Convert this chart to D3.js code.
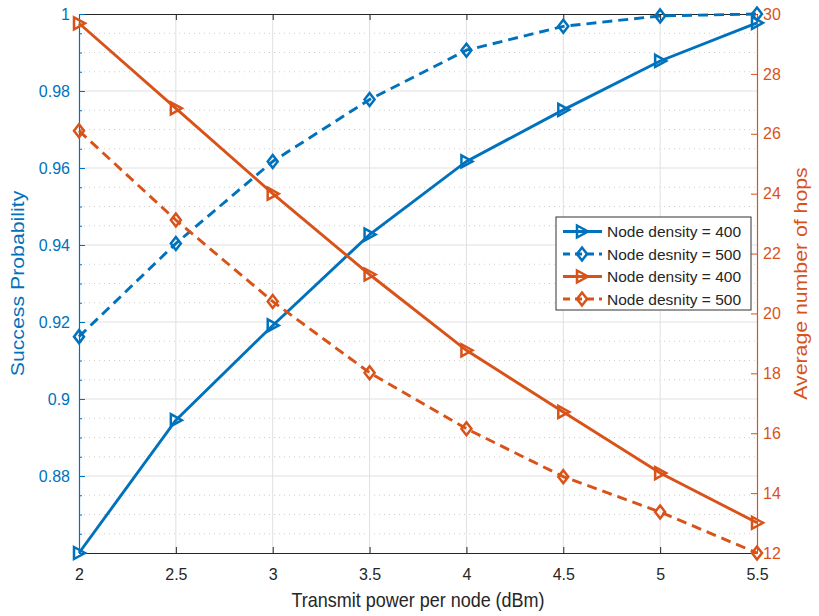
<!DOCTYPE html>
<html>
<head>
<meta charset="utf-8">
<script src="https://cdn.jsdelivr.net/npm/d3@7"></script>
<style>
  html, body { margin: 0; padding: 0; background: #fff; }
  svg { display: block; font-family: "Liberation Sans", Arial, Helvetica, sans-serif; }
</style>
</head>
<body>
<svg id="chart" width="819" height="616"></svg>
<script>
// Transmit power sweep (dBm)
const power = [2, 2.5, 3, 3.5, 4, 4.5, 5, 5.5];
// Success probability (left axis)
const successD400 = [0.8600, 0.8945, 0.9191, 0.9427, 0.9617, 0.9751, 0.9878, 0.9977];
const successD500 = [0.9162, 0.9404, 0.9617, 0.9778, 0.9906, 0.9968, 0.9995, 1.0000];
// Average number of hops (right axis)
const hopsD400 = [29.69, 26.85, 24.00, 21.30, 18.77, 16.71, 14.67, 13.01];
const hopsD500 = [26.10, 23.12, 20.40, 18.02, 16.15, 14.55, 13.37, 12.00];

const xTicks = [2, 2.5, 3, 3.5, 4, 4.5, 5, 5.5];
const leftTicks = [0.88, 0.9, 0.92, 0.94, 0.96, 0.98, 1];
const leftMinor = d3.range(0, 29).map(i => 0.86 + i * 0.005);
const rightTicks = [12, 14, 16, 18, 20, 22, 24, 26, 28, 30];

const legendLabels = ["Node density = 400", "Node desnity = 500", "Node density = 400", "Node desnity = 500"];

const BLUE = "#0072BD", ORANGE = "#D95319", DARK = "#262626";

const svg = d3.select("#chart");
const L = 79, R = 757, T = 14, B = 553;

const x = d3.scaleLinear().domain([2, 5.5]).range([L, R]);
const yL = d3.scaleLinear().domain([0.86, 1]).range([B, T]);
const yR = d3.scaleLinear().domain([12, 30]).range([B, T]);

// grid: dotted minor rows, solid major rows and columns
const grid = svg.append("g");
grid.selectAll("line.minor").data(leftMinor.filter(v => !leftTicks.some(t => Math.abs(t - v) < 1e-6) && v > 0.861 && v < 0.999))
  .join("line").attr("class", "minor")
  .attr("x1", L).attr("x2", R)
  .attr("y1", d => yL(d)).attr("y2", d => yL(d))
  .attr("stroke", "#cfcfcf").attr("stroke-width", 1).attr("stroke-dasharray", "1,4");
grid.selectAll("line.majorY").data(leftTicks.filter(v => v < 1))
  .join("line").attr("class", "majorY")
  .attr("x1", L).attr("x2", R)
  .attr("y1", d => yL(d)).attr("y2", d => yL(d))
  .attr("stroke", "#e0e0e0").attr("stroke-width", 1);
grid.selectAll("line.majorX").data(xTicks.slice(1, -1))
  .join("line").attr("class", "majorX")
  .attr("x1", d => x(d)).attr("x2", d => x(d))
  .attr("y1", T).attr("y2", B)
  .attr("stroke", "#e0e0e0").attr("stroke-width", 1);

// axes
const bottomAxis = svg.append("g").attr("transform", `translate(0,${B})`)
  .call(d3.axisBottom(x).tickValues(xTicks).tickSizeInner(-6).tickSizeOuter(0).tickPadding(16).tickFormat(d3.format("")));
bottomAxis.select(".domain").attr("stroke", DARK).attr("stroke-width", 1.2);
bottomAxis.selectAll(".tick line").attr("stroke", DARK);
bottomAxis.selectAll(".tick text").attr("fill", DARK).attr("font-size", 16).attr("font-family", null);

const topAxis = svg.append("g").attr("transform", `translate(0,${T})`)
  .call(d3.axisTop(x).tickValues(xTicks).tickSizeInner(-6).tickSizeOuter(0).tickFormat(""));
topAxis.select(".domain").attr("stroke", DARK).attr("stroke-width", 1.2);
topAxis.selectAll(".tick line").attr("stroke", DARK);

const leftMinorAxis = svg.append("g").attr("transform", `translate(${L},0)`)
  .call(d3.axisLeft(yL).tickValues(leftMinor).tickSizeInner(-3).tickSizeOuter(0).tickFormat(""));
leftMinorAxis.select(".domain").remove();
leftMinorAxis.selectAll(".tick line").attr("stroke", BLUE);

const leftAxis = svg.append("g").attr("transform", `translate(${L},0)`)
  .call(d3.axisLeft(yL).tickValues(leftTicks).tickSizeInner(-6).tickSizeOuter(0).tickPadding(9).tickFormat(d3.format("")));
leftAxis.select(".domain").attr("stroke", BLUE).attr("stroke-width", 1.2);
leftAxis.selectAll(".tick line").attr("stroke", BLUE);
leftAxis.selectAll(".tick text").attr("fill", BLUE).attr("font-size", 16).attr("font-family", null);

const rightAxis = svg.append("g").attr("transform", `translate(${R},0)`)
  .call(d3.axisRight(yR).tickValues(rightTicks).tickSizeInner(-6).tickSizeOuter(0).tickPadding(6));
rightAxis.select(".domain").attr("stroke", ORANGE).attr("stroke-width", 1.2);
rightAxis.selectAll(".tick line").attr("stroke", ORANGE);
rightAxis.selectAll(".tick text").attr("fill", ORANGE).attr("font-size", 16).attr("font-family", null);

// axis titles
svg.append("text").attr("transform", `translate(${(L + R) / 2},607) scale(1,1.15)`)
  .attr("text-anchor", "middle").attr("font-size", 18).attr("fill", DARK)
  .text("Transmit power per node (dBm)");
svg.append("text").attr("transform", `translate(24,${(T + B) / 2}) scale(1,1.15) rotate(-90)`)
  .attr("text-anchor", "middle").attr("font-size", 18.5).attr("fill", BLUE)
  .text("Success Probability");
svg.append("text").attr("transform", `translate(807,${(T + B) / 2}) scale(1,1.15) rotate(-90)`)
  .attr("text-anchor", "middle").attr("font-size", 18.5).attr("fill", ORANGE)
  .text("Average number of hops");

// markers
const triRight = "M-5,-6L6,0L-5,6Z";
const diamond = "M0,-6.5L5,0L0,6.5L-5,0Z";

const series = [
  { vals: successD400, y: yL, color: BLUE, dash: null, marker: triRight },
  { vals: successD500, y: yL, color: BLUE, dash: "10,6", marker: diamond },
  { vals: hopsD400, y: yR, color: ORANGE, dash: null, marker: triRight },
  { vals: hopsD500, y: yR, color: ORANGE, dash: "10,6", marker: diamond }
];

series.forEach(s => {
  const g = svg.append("g");
  const line = d3.line().x((d, i) => x(power[i])).y(d => s.y(d));
  g.append("path").datum(s.vals).attr("d", line)
    .attr("fill", "none").attr("stroke", s.color).attr("stroke-width", 2.9)
    .attr("stroke-dasharray", s.dash);
  g.selectAll("path.mk").data(s.vals).join("path").attr("class", "mk")
    .attr("transform", (d, i) => `translate(${x(power[i])},${s.y(d)})`)
    .attr("d", s.marker).attr("fill", "none")
    .attr("stroke", s.color).attr("stroke-width", 2.5);
});

// legend
const lg = svg.append("g").attr("transform", "translate(556,217)");
lg.append("rect").attr("width", 195).attr("height", 93)
  .attr("fill", "#fff").attr("stroke", "#333").attr("stroke-width", 1);
series.forEach((s, i) => {
  const cy = 14.5 + i * 22.5;
  lg.append("line").attr("x1", 7).attr("x2", 46).attr("y1", cy).attr("y2", cy)
    .attr("stroke", s.color).attr("stroke-width", 2.9).attr("stroke-dasharray", s.dash ? "7,5" : null);
  lg.append("path").attr("transform", `translate(26,${cy})`).attr("d", s.marker)
    .attr("fill", "none").attr("stroke", s.color).attr("stroke-width", 2.5);
  lg.append("text").attr("x", 51).attr("y", cy + 5.5).attr("font-size", 15.5).attr("fill", DARK)
    .text(legendLabels[i]);
});
</script>
</body>
</html>
